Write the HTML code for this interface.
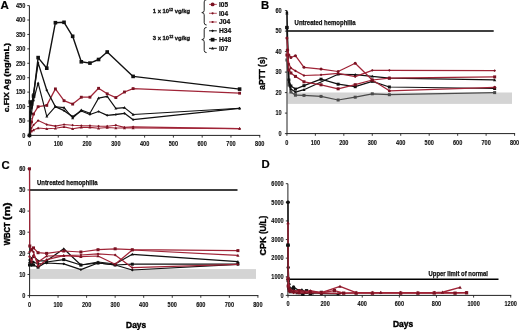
<!DOCTYPE html>
<html><head><meta charset="utf-8"><title>Figure</title>
<style>
html,body{margin:0;padding:0;background:#fff;}
body{width:520px;height:330px;overflow:hidden;}
svg{display:block;will-change:transform;font-family:"Liberation Sans", sans-serif;}
</style></head>
<body>
<svg width="520" height="330" viewBox="0 0 520 330">
<rect width="520" height="330" fill="#fff"/>
<line x1="29.40" y1="5.60" x2="29.40" y2="135.90" stroke="#222222" stroke-width="1.0"/>
<line x1="29.40" y1="135.40" x2="260.24" y2="135.40" stroke="#222222" stroke-width="1.0"/>
<line x1="27.30" y1="135.40" x2="29.40" y2="135.40" stroke="#222222" stroke-width="0.9"/>
<text x="25.30" y="137.70" font-size="6.4" text-anchor="end" font-weight="bold" fill="#111" stroke="#111" stroke-width="0.12" textLength="3.1" lengthAdjust="spacingAndGlyphs" >0</text>
<line x1="27.30" y1="120.98" x2="29.40" y2="120.98" stroke="#222222" stroke-width="0.9"/>
<text x="25.30" y="123.28" font-size="6.4" text-anchor="end" font-weight="bold" fill="#111" stroke="#111" stroke-width="0.12" textLength="6.2" lengthAdjust="spacingAndGlyphs" >50</text>
<line x1="27.30" y1="106.56" x2="29.40" y2="106.56" stroke="#222222" stroke-width="0.9"/>
<text x="25.30" y="108.86" font-size="6.4" text-anchor="end" font-weight="bold" fill="#111" stroke="#111" stroke-width="0.12" textLength="9.3" lengthAdjust="spacingAndGlyphs" >100</text>
<line x1="27.30" y1="92.13" x2="29.40" y2="92.13" stroke="#222222" stroke-width="0.9"/>
<text x="25.30" y="94.43" font-size="6.4" text-anchor="end" font-weight="bold" fill="#111" stroke="#111" stroke-width="0.12" textLength="9.3" lengthAdjust="spacingAndGlyphs" >150</text>
<line x1="27.30" y1="77.71" x2="29.40" y2="77.71" stroke="#222222" stroke-width="0.9"/>
<text x="25.30" y="80.01" font-size="6.4" text-anchor="end" font-weight="bold" fill="#111" stroke="#111" stroke-width="0.12" textLength="9.3" lengthAdjust="spacingAndGlyphs" >200</text>
<line x1="27.30" y1="63.29" x2="29.40" y2="63.29" stroke="#222222" stroke-width="0.9"/>
<text x="25.30" y="65.59" font-size="6.4" text-anchor="end" font-weight="bold" fill="#111" stroke="#111" stroke-width="0.12" textLength="9.3" lengthAdjust="spacingAndGlyphs" >250</text>
<line x1="27.30" y1="48.87" x2="29.40" y2="48.87" stroke="#222222" stroke-width="0.9"/>
<text x="25.30" y="51.17" font-size="6.4" text-anchor="end" font-weight="bold" fill="#111" stroke="#111" stroke-width="0.12" textLength="9.3" lengthAdjust="spacingAndGlyphs" >300</text>
<line x1="27.30" y1="34.44" x2="29.40" y2="34.44" stroke="#222222" stroke-width="0.9"/>
<text x="25.30" y="36.74" font-size="6.4" text-anchor="end" font-weight="bold" fill="#111" stroke="#111" stroke-width="0.12" textLength="9.3" lengthAdjust="spacingAndGlyphs" >350</text>
<line x1="27.30" y1="20.02" x2="29.40" y2="20.02" stroke="#222222" stroke-width="0.9"/>
<text x="25.30" y="22.32" font-size="6.4" text-anchor="end" font-weight="bold" fill="#111" stroke="#111" stroke-width="0.12" textLength="9.3" lengthAdjust="spacingAndGlyphs" >400</text>
<line x1="27.30" y1="5.60" x2="29.40" y2="5.60" stroke="#222222" stroke-width="0.9"/>
<text x="25.30" y="7.90" font-size="6.4" text-anchor="end" font-weight="bold" fill="#111" stroke="#111" stroke-width="0.12" textLength="9.3" lengthAdjust="spacingAndGlyphs" >450</text>
<line x1="29.50" y1="135.40" x2="29.50" y2="137.60" stroke="#222222" stroke-width="0.9"/>
<text x="29.50" y="145.80" font-size="6.4" text-anchor="middle" font-weight="bold" fill="#111" stroke="#111" stroke-width="0.12" textLength="3.1" lengthAdjust="spacingAndGlyphs" >0</text>
<line x1="58.28" y1="135.40" x2="58.28" y2="137.60" stroke="#222222" stroke-width="0.9"/>
<text x="58.28" y="145.80" font-size="6.4" text-anchor="middle" font-weight="bold" fill="#111" stroke="#111" stroke-width="0.12" textLength="9.3" lengthAdjust="spacingAndGlyphs" >100</text>
<line x1="87.06" y1="135.40" x2="87.06" y2="137.60" stroke="#222222" stroke-width="0.9"/>
<text x="87.06" y="145.80" font-size="6.4" text-anchor="middle" font-weight="bold" fill="#111" stroke="#111" stroke-width="0.12" textLength="9.3" lengthAdjust="spacingAndGlyphs" >200</text>
<line x1="115.84" y1="135.40" x2="115.84" y2="137.60" stroke="#222222" stroke-width="0.9"/>
<text x="115.84" y="145.80" font-size="6.4" text-anchor="middle" font-weight="bold" fill="#111" stroke="#111" stroke-width="0.12" textLength="9.3" lengthAdjust="spacingAndGlyphs" >300</text>
<line x1="144.62" y1="135.40" x2="144.62" y2="137.60" stroke="#222222" stroke-width="0.9"/>
<text x="144.62" y="145.80" font-size="6.4" text-anchor="middle" font-weight="bold" fill="#111" stroke="#111" stroke-width="0.12" textLength="9.3" lengthAdjust="spacingAndGlyphs" >400</text>
<line x1="173.40" y1="135.40" x2="173.40" y2="137.60" stroke="#222222" stroke-width="0.9"/>
<text x="173.40" y="145.80" font-size="6.4" text-anchor="middle" font-weight="bold" fill="#111" stroke="#111" stroke-width="0.12" textLength="9.3" lengthAdjust="spacingAndGlyphs" >500</text>
<line x1="202.18" y1="135.40" x2="202.18" y2="137.60" stroke="#222222" stroke-width="0.9"/>
<text x="202.18" y="145.80" font-size="6.4" text-anchor="middle" font-weight="bold" fill="#111" stroke="#111" stroke-width="0.12" textLength="9.3" lengthAdjust="spacingAndGlyphs" >600</text>
<line x1="230.96" y1="135.40" x2="230.96" y2="137.60" stroke="#222222" stroke-width="0.9"/>
<text x="230.96" y="145.80" font-size="6.4" text-anchor="middle" font-weight="bold" fill="#111" stroke="#111" stroke-width="0.12" textLength="9.3" lengthAdjust="spacingAndGlyphs" >700</text>
<line x1="259.74" y1="135.40" x2="259.74" y2="137.60" stroke="#222222" stroke-width="0.9"/>
<text x="259.74" y="145.80" font-size="6.4" text-anchor="middle" font-weight="bold" fill="#111" stroke="#111" stroke-width="0.12" textLength="9.3" lengthAdjust="spacingAndGlyphs" >800</text>
<polyline points="29.50,135.40 31.51,128.00 33.53,125.00 38.13,120.60 46.77,124.60 55.40,126.10 64.04,124.50 72.67,125.20 81.30,125.70 89.94,125.70 98.57,126.20 107.21,126.20 115.84,125.20 124.47,127.40 133.11,126.90 239.59,128.60" fill="none" stroke="#a02437" stroke-width="1.125" stroke-linejoin="round"/>
<path d="M29.50 134.07L30.83 135.40L29.50 136.73L28.17 135.40Z" fill="#7a1222"/>
<path d="M31.51 126.67L32.84 128.00L31.51 129.33L30.18 128.00Z" fill="#7a1222"/>
<path d="M33.53 123.67L34.86 125.00L33.53 126.33L32.20 125.00Z" fill="#7a1222"/>
<path d="M38.13 119.27L39.46 120.60L38.13 121.93L36.80 120.60Z" fill="#7a1222"/>
<path d="M46.77 123.27L48.10 124.60L46.77 125.93L45.44 124.60Z" fill="#7a1222"/>
<path d="M55.40 124.77L56.73 126.10L55.40 127.43L54.07 126.10Z" fill="#7a1222"/>
<path d="M64.04 123.17L65.37 124.50L64.04 125.83L62.71 124.50Z" fill="#7a1222"/>
<path d="M72.67 123.87L74.00 125.20L72.67 126.53L71.34 125.20Z" fill="#7a1222"/>
<path d="M81.30 124.37L82.63 125.70L81.30 127.03L79.97 125.70Z" fill="#7a1222"/>
<path d="M89.94 124.37L91.27 125.70L89.94 127.03L88.61 125.70Z" fill="#7a1222"/>
<path d="M98.57 124.87L99.90 126.20L98.57 127.53L97.24 126.20Z" fill="#7a1222"/>
<path d="M107.21 124.87L108.54 126.20L107.21 127.53L105.88 126.20Z" fill="#7a1222"/>
<path d="M115.84 123.87L117.17 125.20L115.84 126.53L114.51 125.20Z" fill="#7a1222"/>
<path d="M124.47 126.07L125.80 127.40L124.47 128.73L123.14 127.40Z" fill="#7a1222"/>
<path d="M133.11 125.57L134.44 126.90L133.11 128.23L131.78 126.90Z" fill="#7a1222"/>
<path d="M239.59 127.27L240.92 128.60L239.59 129.93L238.26 128.60Z" fill="#7a1222"/>
<polyline points="29.50,135.40 31.51,131.00 33.53,130.00 38.13,128.00 46.77,128.80 55.40,128.30 64.04,126.90 72.67,128.80 81.30,127.40 89.94,127.40 98.57,128.30 107.21,127.50 115.84,128.00 124.47,128.00 133.11,128.00 239.59,128.60" fill="none" stroke="#a02437" stroke-width="1.125" stroke-linejoin="round"/>
<path d="M29.50 133.88L31.02 136.62L27.98 136.62Z" fill="#7a1222"/>
<path d="M31.51 129.48L33.03 132.22L29.99 132.22Z" fill="#7a1222"/>
<path d="M33.53 128.48L35.05 131.22L32.01 131.22Z" fill="#7a1222"/>
<path d="M38.13 126.48L39.65 129.22L36.61 129.22Z" fill="#7a1222"/>
<path d="M46.77 127.28L48.29 130.02L45.25 130.02Z" fill="#7a1222"/>
<path d="M55.40 126.78L56.92 129.52L53.88 129.52Z" fill="#7a1222"/>
<path d="M64.04 125.38L65.56 128.12L62.52 128.12Z" fill="#7a1222"/>
<path d="M72.67 127.28L74.19 130.02L71.15 130.02Z" fill="#7a1222"/>
<path d="M81.30 125.88L82.82 128.62L79.78 128.62Z" fill="#7a1222"/>
<path d="M89.94 125.88L91.46 128.62L88.42 128.62Z" fill="#7a1222"/>
<path d="M98.57 126.78L100.09 129.52L97.05 129.52Z" fill="#7a1222"/>
<path d="M107.21 125.98L108.73 128.72L105.69 128.72Z" fill="#7a1222"/>
<path d="M115.84 126.48L117.36 129.22L114.32 129.22Z" fill="#7a1222"/>
<path d="M124.47 126.48L125.99 129.22L122.95 129.22Z" fill="#7a1222"/>
<path d="M133.11 126.48L134.63 129.22L131.59 129.22Z" fill="#7a1222"/>
<path d="M239.59 127.08L241.11 129.82L238.07 129.82Z" fill="#7a1222"/>
<polyline points="29.50,135.40 31.51,122.00 33.53,114.00 38.13,106.70 46.77,105.40 55.40,88.90 64.04,100.70 72.67,104.10 81.30,97.20 89.94,97.20 98.57,88.30 107.21,93.80 115.84,97.60 124.47,92.00 133.11,88.60 239.59,93.20" fill="none" stroke="#a02437" stroke-width="1.25" stroke-linejoin="round"/>
<rect x="28.07" y="133.97" width="2.85" height="2.85" fill="#7a1222"/>
<rect x="30.09" y="120.58" width="2.85" height="2.85" fill="#7a1222"/>
<rect x="32.10" y="112.58" width="2.85" height="2.85" fill="#7a1222"/>
<rect x="36.71" y="105.28" width="2.85" height="2.85" fill="#7a1222"/>
<rect x="45.34" y="103.98" width="2.85" height="2.85" fill="#7a1222"/>
<rect x="53.98" y="87.48" width="2.85" height="2.85" fill="#7a1222"/>
<rect x="62.61" y="99.28" width="2.85" height="2.85" fill="#7a1222"/>
<rect x="71.25" y="102.67" width="2.85" height="2.85" fill="#7a1222"/>
<rect x="79.88" y="95.78" width="2.85" height="2.85" fill="#7a1222"/>
<rect x="88.51" y="95.78" width="2.85" height="2.85" fill="#7a1222"/>
<rect x="97.15" y="86.88" width="2.85" height="2.85" fill="#7a1222"/>
<rect x="105.78" y="92.38" width="2.85" height="2.85" fill="#7a1222"/>
<rect x="114.42" y="96.17" width="2.85" height="2.85" fill="#7a1222"/>
<rect x="123.05" y="90.58" width="2.85" height="2.85" fill="#7a1222"/>
<rect x="131.68" y="87.17" width="2.85" height="2.85" fill="#7a1222"/>
<rect x="238.17" y="91.78" width="2.85" height="2.85" fill="#7a1222"/>
<polyline points="29.50,135.40 30.36,118.00 31.51,113.00 33.53,100.00 38.13,83.00 46.77,116.40 55.40,106.70 64.04,107.60 72.67,118.00 81.30,110.00 89.94,113.30 98.57,98.10 107.21,96.40 115.84,108.40 124.47,107.60 133.11,114.50 239.59,108.30" fill="none" stroke="#111111" stroke-width="1.125" stroke-linejoin="round"/>
<path d="M29.50 133.88L31.02 136.62L27.98 136.62Z" fill="#111111"/>
<path d="M30.36 116.48L31.88 119.22L28.84 119.22Z" fill="#111111"/>
<path d="M31.51 111.48L33.03 114.22L29.99 114.22Z" fill="#111111"/>
<path d="M33.53 98.48L35.05 101.22L32.01 101.22Z" fill="#111111"/>
<path d="M38.13 81.48L39.65 84.22L36.61 84.22Z" fill="#111111"/>
<path d="M46.77 114.88L48.29 117.62L45.25 117.62Z" fill="#111111"/>
<path d="M55.40 105.18L56.92 107.92L53.88 107.92Z" fill="#111111"/>
<path d="M64.04 106.08L65.56 108.82L62.52 108.82Z" fill="#111111"/>
<path d="M72.67 116.48L74.19 119.22L71.15 119.22Z" fill="#111111"/>
<path d="M81.30 108.48L82.82 111.22L79.78 111.22Z" fill="#111111"/>
<path d="M89.94 111.78L91.46 114.52L88.42 114.52Z" fill="#111111"/>
<path d="M98.57 96.58L100.09 99.32L97.05 99.32Z" fill="#111111"/>
<path d="M107.21 94.88L108.73 97.62L105.69 97.62Z" fill="#111111"/>
<path d="M115.84 106.88L117.36 109.62L114.32 109.62Z" fill="#111111"/>
<path d="M124.47 106.08L125.99 108.82L122.95 108.82Z" fill="#111111"/>
<path d="M133.11 112.98L134.63 115.72L131.59 115.72Z" fill="#111111"/>
<path d="M239.59 106.78L241.11 109.52L238.07 109.52Z" fill="#111111"/>
<polyline points="29.50,135.40 30.36,112.00 31.51,108.00 33.53,93.50 38.13,62.90 46.77,90.20 55.40,106.70 64.04,110.70 72.67,116.60 81.30,111.00 89.94,114.50 98.57,111.50 107.21,115.30 115.84,114.50 124.47,113.30 133.11,119.70 239.59,108.30" fill="none" stroke="#111111" stroke-width="1.3125" stroke-linejoin="round"/>
<path d="M29.50 134.07L30.83 135.40L29.50 136.73L28.17 135.40Z" fill="#111111"/>
<path d="M30.36 110.67L31.69 112.00L30.36 113.33L29.03 112.00Z" fill="#111111"/>
<path d="M31.51 106.67L32.84 108.00L31.51 109.33L30.18 108.00Z" fill="#111111"/>
<path d="M33.53 92.17L34.86 93.50L33.53 94.83L32.20 93.50Z" fill="#111111"/>
<path d="M38.13 61.57L39.46 62.90L38.13 64.23L36.80 62.90Z" fill="#111111"/>
<path d="M46.77 88.87L48.10 90.20L46.77 91.53L45.44 90.20Z" fill="#111111"/>
<path d="M55.40 105.37L56.73 106.70L55.40 108.03L54.07 106.70Z" fill="#111111"/>
<path d="M64.04 109.37L65.37 110.70L64.04 112.03L62.71 110.70Z" fill="#111111"/>
<path d="M72.67 115.27L74.00 116.60L72.67 117.93L71.34 116.60Z" fill="#111111"/>
<path d="M81.30 109.67L82.63 111.00L81.30 112.33L79.97 111.00Z" fill="#111111"/>
<path d="M89.94 113.17L91.27 114.50L89.94 115.83L88.61 114.50Z" fill="#111111"/>
<path d="M98.57 110.17L99.90 111.50L98.57 112.83L97.24 111.50Z" fill="#111111"/>
<path d="M107.21 113.97L108.54 115.30L107.21 116.63L105.88 115.30Z" fill="#111111"/>
<path d="M115.84 113.17L117.17 114.50L115.84 115.83L114.51 114.50Z" fill="#111111"/>
<path d="M124.47 111.97L125.80 113.30L124.47 114.63L123.14 113.30Z" fill="#111111"/>
<path d="M133.11 118.37L134.44 119.70L133.11 121.03L131.78 119.70Z" fill="#111111"/>
<path d="M239.59 106.97L240.92 108.30L239.59 109.63L238.26 108.30Z" fill="#111111"/>
<polyline points="29.50,135.40 30.36,102.00 31.51,104.00 33.53,96.00 38.13,57.60 46.77,68.20 55.40,22.70 64.04,22.30 72.67,36.30 81.30,61.80 89.94,63.10 98.57,59.50 107.21,52.00 133.11,76.40 239.59,89.10" fill="none" stroke="#111111" stroke-width="1.4000000000000001" stroke-linejoin="round"/>
<rect x="27.70" y="133.60" width="3.60" height="3.60" fill="#111111"/>
<rect x="28.56" y="100.20" width="3.60" height="3.60" fill="#111111"/>
<rect x="29.71" y="102.20" width="3.60" height="3.60" fill="#111111"/>
<rect x="31.73" y="94.20" width="3.60" height="3.60" fill="#111111"/>
<rect x="36.33" y="55.80" width="3.60" height="3.60" fill="#111111"/>
<rect x="44.97" y="66.40" width="3.60" height="3.60" fill="#111111"/>
<rect x="53.60" y="20.90" width="3.60" height="3.60" fill="#111111"/>
<rect x="62.24" y="20.50" width="3.60" height="3.60" fill="#111111"/>
<rect x="70.87" y="34.50" width="3.60" height="3.60" fill="#111111"/>
<rect x="79.50" y="60.00" width="3.60" height="3.60" fill="#111111"/>
<rect x="88.14" y="61.30" width="3.60" height="3.60" fill="#111111"/>
<rect x="96.77" y="57.70" width="3.60" height="3.60" fill="#111111"/>
<rect x="105.41" y="50.20" width="3.60" height="3.60" fill="#111111"/>
<rect x="131.31" y="74.60" width="3.60" height="3.60" fill="#111111"/>
<rect x="237.79" y="87.30" width="3.60" height="3.60" fill="#111111"/>
<text x="152.80" y="13.40" font-size="5.8" text-anchor="start" font-weight="bold" fill="#111" stroke="#111" stroke-width="0.3" textLength="37.2" lengthAdjust="spacingAndGlyphs" >1 x 10<tspan font-size="3.6" dy="-2.4">12</tspan><tspan dy="2.4"> vg/kg</tspan></text>
<text x="152.80" y="39.90" font-size="5.8" text-anchor="start" font-weight="bold" fill="#111" stroke="#111" stroke-width="0.3" textLength="37.4" lengthAdjust="spacingAndGlyphs" >3 x 10<tspan font-size="3.6" dy="-2.4">12</tspan><tspan dy="2.4"> vg/kg</tspan></text>
<path d="M206.60 -0.30 Q204.20 -0.30 204.20 1.90 L204.20 10.40 Q204.20 12.60 201.80 12.60 Q204.20 12.60 204.20 14.80 L204.20 22.80 Q204.20 25.00 206.60 25.00" fill="none" stroke="#222" stroke-width="1.0"/>
<path d="M206.60 27.40 Q204.20 27.40 204.20 29.60 L204.20 37.40 Q204.20 39.60 201.80 39.60 Q204.20 39.60 204.20 41.80 L204.20 50.40 Q204.20 52.60 206.60 52.60" fill="none" stroke="#222" stroke-width="1.0"/>
<line x1="209.00" y1="4.40" x2="216.80" y2="4.40" stroke="#b8505e" stroke-width="1.0"/>
<circle cx="212.60" cy="4.40" r="1.95" fill="#7a1222"/>
<text x="219.00" y="6.80" font-size="6.7" text-anchor="start" font-weight="bold" fill="#111" stroke="#111" stroke-width="0.22" textLength="9.0" lengthAdjust="spacingAndGlyphs" >I05</text>
<line x1="209.00" y1="13.30" x2="216.80" y2="13.30" stroke="#b8505e" stroke-width="1.0"/>
<circle cx="212.60" cy="13.30" r="1.10" fill="#7a1222"/>
<text x="219.00" y="15.70" font-size="6.7" text-anchor="start" font-weight="bold" fill="#111" stroke="#111" stroke-width="0.22" textLength="9.0" lengthAdjust="spacingAndGlyphs" >I04</text>
<line x1="209.00" y1="22.00" x2="216.80" y2="22.00" stroke="#b8505e" stroke-width="1.0"/>
<circle cx="212.60" cy="22.00" r="1.10" fill="#7a1222"/>
<text x="219.00" y="24.40" font-size="6.7" text-anchor="start" font-weight="bold" fill="#111" stroke="#111" stroke-width="0.22" >J04</text>
<line x1="209.00" y1="30.80" x2="216.80" y2="30.80" stroke="#111111" stroke-width="1.0"/>
<path d="M212.60 29.40L214.00 30.80L212.60 32.20L211.20 30.80Z" fill="#111111"/>
<text x="219.00" y="33.20" font-size="6.7" text-anchor="start" font-weight="bold" fill="#111" stroke="#111" stroke-width="0.22" >H34</text>
<line x1="209.00" y1="39.70" x2="216.80" y2="39.70" stroke="#111111" stroke-width="1.0"/>
<rect x="210.72" y="37.83" width="3.75" height="3.75" fill="#111111"/>
<text x="219.00" y="42.10" font-size="6.7" text-anchor="start" font-weight="bold" fill="#111" stroke="#111" stroke-width="0.22" >H48</text>
<line x1="209.00" y1="48.30" x2="216.80" y2="48.30" stroke="#111111" stroke-width="1.0"/>
<path d="M212.60 46.86L214.04 49.45L211.16 49.45Z" fill="#111111"/>
<text x="219.00" y="50.70" font-size="6.7" text-anchor="start" font-weight="bold" fill="#111" stroke="#111" stroke-width="0.22" textLength="9.0" lengthAdjust="spacingAndGlyphs" >I07</text>
<rect x="287.6" y="92.5" width="224.4" height="11.4" fill="#d4d4d4"/>
<line x1="287.00" y1="10.60" x2="287.00" y2="134.10" stroke="#222222" stroke-width="1.0"/>
<line x1="287.00" y1="133.60" x2="515.08" y2="133.60" stroke="#222222" stroke-width="1.0"/>
<line x1="284.90" y1="133.60" x2="287.00" y2="133.60" stroke="#222222" stroke-width="0.9"/>
<text x="281.70" y="135.90" font-size="6.4" text-anchor="end" font-weight="bold" fill="#111" stroke="#111" stroke-width="0.12" textLength="3.1" lengthAdjust="spacingAndGlyphs" >0</text>
<line x1="284.90" y1="113.10" x2="287.00" y2="113.10" stroke="#222222" stroke-width="0.9"/>
<text x="281.70" y="115.40" font-size="6.4" text-anchor="end" font-weight="bold" fill="#111" stroke="#111" stroke-width="0.12" textLength="6.2" lengthAdjust="spacingAndGlyphs" >10</text>
<line x1="284.90" y1="92.60" x2="287.00" y2="92.60" stroke="#222222" stroke-width="0.9"/>
<text x="281.70" y="94.90" font-size="6.4" text-anchor="end" font-weight="bold" fill="#111" stroke="#111" stroke-width="0.12" textLength="6.2" lengthAdjust="spacingAndGlyphs" >20</text>
<line x1="284.90" y1="72.10" x2="287.00" y2="72.10" stroke="#222222" stroke-width="0.9"/>
<text x="281.70" y="74.40" font-size="6.4" text-anchor="end" font-weight="bold" fill="#111" stroke="#111" stroke-width="0.12" textLength="6.2" lengthAdjust="spacingAndGlyphs" >30</text>
<line x1="284.90" y1="51.60" x2="287.00" y2="51.60" stroke="#222222" stroke-width="0.9"/>
<text x="281.70" y="53.90" font-size="6.4" text-anchor="end" font-weight="bold" fill="#111" stroke="#111" stroke-width="0.12" textLength="6.2" lengthAdjust="spacingAndGlyphs" >40</text>
<line x1="284.90" y1="31.10" x2="287.00" y2="31.10" stroke="#222222" stroke-width="0.9"/>
<text x="281.70" y="33.40" font-size="6.4" text-anchor="end" font-weight="bold" fill="#111" stroke="#111" stroke-width="0.12" textLength="6.2" lengthAdjust="spacingAndGlyphs" >50</text>
<line x1="284.90" y1="10.60" x2="287.00" y2="10.60" stroke="#222222" stroke-width="0.9"/>
<text x="281.70" y="12.90" font-size="6.4" text-anchor="end" font-weight="bold" fill="#111" stroke="#111" stroke-width="0.12" textLength="6.2" lengthAdjust="spacingAndGlyphs" >60</text>
<line x1="286.90" y1="133.60" x2="286.90" y2="135.80" stroke="#222222" stroke-width="0.9"/>
<text x="286.90" y="145.40" font-size="6.4" text-anchor="middle" font-weight="bold" fill="#111" stroke="#111" stroke-width="0.12" textLength="3.1" lengthAdjust="spacingAndGlyphs" >0</text>
<line x1="315.36" y1="133.60" x2="315.36" y2="135.80" stroke="#222222" stroke-width="0.9"/>
<text x="315.36" y="145.40" font-size="6.4" text-anchor="middle" font-weight="bold" fill="#111" stroke="#111" stroke-width="0.12" textLength="9.3" lengthAdjust="spacingAndGlyphs" >100</text>
<line x1="343.82" y1="133.60" x2="343.82" y2="135.80" stroke="#222222" stroke-width="0.9"/>
<text x="343.82" y="145.40" font-size="6.4" text-anchor="middle" font-weight="bold" fill="#111" stroke="#111" stroke-width="0.12" textLength="9.3" lengthAdjust="spacingAndGlyphs" >200</text>
<line x1="372.28" y1="133.60" x2="372.28" y2="135.80" stroke="#222222" stroke-width="0.9"/>
<text x="372.28" y="145.40" font-size="6.4" text-anchor="middle" font-weight="bold" fill="#111" stroke="#111" stroke-width="0.12" textLength="9.3" lengthAdjust="spacingAndGlyphs" >300</text>
<line x1="400.74" y1="133.60" x2="400.74" y2="135.80" stroke="#222222" stroke-width="0.9"/>
<text x="400.74" y="145.40" font-size="6.4" text-anchor="middle" font-weight="bold" fill="#111" stroke="#111" stroke-width="0.12" textLength="9.3" lengthAdjust="spacingAndGlyphs" >400</text>
<line x1="429.20" y1="133.60" x2="429.20" y2="135.80" stroke="#222222" stroke-width="0.9"/>
<text x="429.20" y="145.40" font-size="6.4" text-anchor="middle" font-weight="bold" fill="#111" stroke="#111" stroke-width="0.12" textLength="9.3" lengthAdjust="spacingAndGlyphs" >500</text>
<line x1="457.66" y1="133.60" x2="457.66" y2="135.80" stroke="#222222" stroke-width="0.9"/>
<text x="457.66" y="145.40" font-size="6.4" text-anchor="middle" font-weight="bold" fill="#111" stroke="#111" stroke-width="0.12" textLength="9.3" lengthAdjust="spacingAndGlyphs" >600</text>
<line x1="486.12" y1="133.60" x2="486.12" y2="135.80" stroke="#222222" stroke-width="0.9"/>
<text x="486.12" y="145.40" font-size="6.4" text-anchor="middle" font-weight="bold" fill="#111" stroke="#111" stroke-width="0.12" textLength="9.3" lengthAdjust="spacingAndGlyphs" >700</text>
<line x1="514.58" y1="133.60" x2="514.58" y2="135.80" stroke="#222222" stroke-width="0.9"/>
<text x="514.58" y="145.40" font-size="6.4" text-anchor="middle" font-weight="bold" fill="#111" stroke="#111" stroke-width="0.12" textLength="9.3" lengthAdjust="spacingAndGlyphs" >800</text>
<line x1="287.00" y1="31.00" x2="493.70" y2="31.00" stroke="#000" stroke-width="1.6"/>
<text x="294.60" y="24.50" font-size="6.3" text-anchor="start" font-weight="bold" fill="#111" stroke="#111" stroke-width="0.25" textLength="61.0" lengthAdjust="spacingAndGlyphs" >Untreated hemophilia</text>
<polyline points="286.90,60.00 288.89,85.00 290.88,92.00 295.44,95.20 303.98,95.40 321.05,96.40 338.13,100.00 355.20,97.20 372.28,93.80 389.36,94.70 494.66,92.60" fill="none" stroke="#4a4a4a" stroke-width="1.25" stroke-linejoin="round"/>
<rect x="285.40" y="58.50" width="3.00" height="3.00" fill="#4a4a4a"/>
<rect x="287.39" y="83.50" width="3.00" height="3.00" fill="#4a4a4a"/>
<rect x="289.38" y="90.50" width="3.00" height="3.00" fill="#4a4a4a"/>
<rect x="293.94" y="93.70" width="3.00" height="3.00" fill="#4a4a4a"/>
<rect x="302.48" y="93.90" width="3.00" height="3.00" fill="#4a4a4a"/>
<rect x="319.55" y="94.90" width="3.00" height="3.00" fill="#4a4a4a"/>
<rect x="336.63" y="98.50" width="3.00" height="3.00" fill="#4a4a4a"/>
<rect x="353.70" y="95.70" width="3.00" height="3.00" fill="#4a4a4a"/>
<rect x="370.78" y="92.30" width="3.00" height="3.00" fill="#4a4a4a"/>
<rect x="387.86" y="93.20" width="3.00" height="3.00" fill="#4a4a4a"/>
<rect x="493.16" y="91.10" width="3.00" height="3.00" fill="#4a4a4a"/>
<polyline points="286.90,11.90 288.89,82.00 290.88,89.00 295.44,92.10 303.98,89.70 338.13,74.30 355.20,74.70 372.28,76.30 389.36,78.10 494.66,79.90" fill="none" stroke="#111111" stroke-width="1.25" stroke-linejoin="round"/>
<path d="M286.90 10.30L288.50 13.18L285.30 13.18Z" fill="#111111"/>
<path d="M288.89 80.40L290.49 83.28L287.29 83.28Z" fill="#111111"/>
<path d="M290.88 87.40L292.48 90.28L289.28 90.28Z" fill="#111111"/>
<path d="M295.44 90.50L297.04 93.38L293.84 93.38Z" fill="#111111"/>
<path d="M303.98 88.10L305.58 90.98L302.38 90.98Z" fill="#111111"/>
<path d="M338.13 72.70L339.73 75.58L336.53 75.58Z" fill="#111111"/>
<path d="M355.20 73.10L356.80 75.98L353.60 75.98Z" fill="#111111"/>
<path d="M372.28 74.70L373.88 77.58L370.68 77.58Z" fill="#111111"/>
<path d="M389.36 76.50L390.96 79.38L387.76 79.38Z" fill="#111111"/>
<path d="M494.66 78.30L496.26 81.18L493.06 81.18Z" fill="#111111"/>
<polyline points="286.90,27.70 288.89,80.00 290.88,86.00 295.44,89.10 303.98,85.70 321.05,79.20 338.13,84.20 355.20,86.70 372.28,81.30 389.36,87.00 494.66,88.50" fill="none" stroke="#111111" stroke-width="1.25" stroke-linejoin="round"/>
<rect x="285.40" y="26.20" width="3.00" height="3.00" fill="#111111"/>
<rect x="287.39" y="78.50" width="3.00" height="3.00" fill="#111111"/>
<rect x="289.38" y="84.50" width="3.00" height="3.00" fill="#111111"/>
<rect x="293.94" y="87.60" width="3.00" height="3.00" fill="#111111"/>
<rect x="302.48" y="84.20" width="3.00" height="3.00" fill="#111111"/>
<rect x="319.55" y="77.70" width="3.00" height="3.00" fill="#111111"/>
<rect x="336.63" y="82.70" width="3.00" height="3.00" fill="#111111"/>
<rect x="353.70" y="85.20" width="3.00" height="3.00" fill="#111111"/>
<rect x="370.78" y="79.80" width="3.00" height="3.00" fill="#111111"/>
<rect x="387.86" y="85.50" width="3.00" height="3.00" fill="#111111"/>
<rect x="493.16" y="87.00" width="3.00" height="3.00" fill="#111111"/>
<polyline points="286.90,55.00 288.89,70.00 290.88,73.00 295.44,76.40 303.98,81.80 321.05,84.80 338.13,88.80 355.20,84.70 372.28,80.00 389.36,78.10 494.66,76.90" fill="none" stroke="#a02437" stroke-width="1.25" stroke-linejoin="round"/>
<rect x="285.40" y="53.50" width="3.00" height="3.00" fill="#7a1222"/>
<rect x="287.39" y="68.50" width="3.00" height="3.00" fill="#7a1222"/>
<rect x="289.38" y="71.50" width="3.00" height="3.00" fill="#7a1222"/>
<rect x="293.94" y="74.90" width="3.00" height="3.00" fill="#7a1222"/>
<rect x="302.48" y="80.30" width="3.00" height="3.00" fill="#7a1222"/>
<rect x="319.55" y="83.30" width="3.00" height="3.00" fill="#7a1222"/>
<rect x="336.63" y="87.30" width="3.00" height="3.00" fill="#7a1222"/>
<rect x="353.70" y="83.20" width="3.00" height="3.00" fill="#7a1222"/>
<rect x="370.78" y="78.50" width="3.00" height="3.00" fill="#7a1222"/>
<rect x="387.86" y="76.60" width="3.00" height="3.00" fill="#7a1222"/>
<rect x="493.16" y="75.40" width="3.00" height="3.00" fill="#7a1222"/>
<polyline points="286.90,50.00 288.89,64.00 290.88,68.00 295.44,70.90 303.98,75.50 321.05,74.80 338.13,73.30 355.20,76.70 372.28,70.30 389.36,70.30 494.66,70.70" fill="none" stroke="#a02437" stroke-width="1.25" stroke-linejoin="round"/>
<path d="M286.90 48.60L288.30 50.00L286.90 51.40L285.50 50.00Z" fill="#7a1222"/>
<path d="M288.89 62.60L290.29 64.00L288.89 65.40L287.49 64.00Z" fill="#7a1222"/>
<path d="M290.88 66.60L292.28 68.00L290.88 69.40L289.48 68.00Z" fill="#7a1222"/>
<path d="M295.44 69.50L296.84 70.90L295.44 72.30L294.04 70.90Z" fill="#7a1222"/>
<path d="M303.98 74.10L305.38 75.50L303.98 76.90L302.58 75.50Z" fill="#7a1222"/>
<path d="M321.05 73.40L322.45 74.80L321.05 76.20L319.65 74.80Z" fill="#7a1222"/>
<path d="M338.13 71.90L339.53 73.30L338.13 74.70L336.73 73.30Z" fill="#7a1222"/>
<path d="M355.20 75.30L356.60 76.70L355.20 78.10L353.80 76.70Z" fill="#7a1222"/>
<path d="M372.28 68.90L373.68 70.30L372.28 71.70L370.88 70.30Z" fill="#7a1222"/>
<path d="M389.36 68.90L390.76 70.30L389.36 71.70L387.96 70.30Z" fill="#7a1222"/>
<path d="M494.66 69.30L496.06 70.70L494.66 72.10L493.26 70.70Z" fill="#7a1222"/>
<polyline points="286.90,38.00 287.75,50.00 288.89,55.00 290.88,57.50 295.44,55.70 303.98,67.30 321.05,69.10 338.13,71.50 355.20,63.30 372.28,80.00 389.36,90.80 494.66,87.30" fill="none" stroke="#a02437" stroke-width="1.25" stroke-linejoin="round"/>
<circle cx="286.90" cy="38.00" r="1.50" fill="#7a1222"/>
<circle cx="287.75" cy="50.00" r="1.50" fill="#7a1222"/>
<circle cx="288.89" cy="55.00" r="1.50" fill="#7a1222"/>
<circle cx="290.88" cy="57.50" r="1.50" fill="#7a1222"/>
<circle cx="295.44" cy="55.70" r="1.50" fill="#7a1222"/>
<circle cx="303.98" cy="67.30" r="1.50" fill="#7a1222"/>
<circle cx="321.05" cy="69.10" r="1.50" fill="#7a1222"/>
<circle cx="338.13" cy="71.50" r="1.50" fill="#7a1222"/>
<circle cx="355.20" cy="63.30" r="1.50" fill="#7a1222"/>
<circle cx="372.28" cy="80.00" r="1.50" fill="#7a1222"/>
<circle cx="389.36" cy="90.80" r="1.50" fill="#7a1222"/>
<circle cx="494.66" cy="87.30" r="1.50" fill="#7a1222"/>
<path d="M286.90 11.70L288.50 14.58L285.30 14.58Z" fill="#111111"/>
<rect x="285.25" y="25.85" width="3.30" height="3.30" fill="#111111"/>
<rect x="30.0" y="269.1" width="226.0" height="9.8" fill="#d4d4d4"/>
<line x1="29.60" y1="168.82" x2="29.60" y2="296.10" stroke="#222222" stroke-width="1.0"/>
<line x1="29.60" y1="295.60" x2="258.40" y2="295.60" stroke="#222222" stroke-width="1.0"/>
<line x1="27.50" y1="295.60" x2="29.60" y2="295.60" stroke="#222222" stroke-width="0.9"/>
<text x="25.40" y="297.90" font-size="6.4" text-anchor="end" font-weight="bold" fill="#111" stroke="#111" stroke-width="0.12" textLength="3.1" lengthAdjust="spacingAndGlyphs" >0</text>
<line x1="27.50" y1="274.47" x2="29.60" y2="274.47" stroke="#222222" stroke-width="0.9"/>
<text x="25.40" y="276.77" font-size="6.4" text-anchor="end" font-weight="bold" fill="#111" stroke="#111" stroke-width="0.12" textLength="6.2" lengthAdjust="spacingAndGlyphs" >10</text>
<line x1="27.50" y1="253.34" x2="29.60" y2="253.34" stroke="#222222" stroke-width="0.9"/>
<text x="25.40" y="255.64" font-size="6.4" text-anchor="end" font-weight="bold" fill="#111" stroke="#111" stroke-width="0.12" textLength="6.2" lengthAdjust="spacingAndGlyphs" >20</text>
<line x1="27.50" y1="232.21" x2="29.60" y2="232.21" stroke="#222222" stroke-width="0.9"/>
<text x="25.40" y="234.51" font-size="6.4" text-anchor="end" font-weight="bold" fill="#111" stroke="#111" stroke-width="0.12" textLength="6.2" lengthAdjust="spacingAndGlyphs" >30</text>
<line x1="27.50" y1="211.08" x2="29.60" y2="211.08" stroke="#222222" stroke-width="0.9"/>
<text x="25.40" y="213.38" font-size="6.4" text-anchor="end" font-weight="bold" fill="#111" stroke="#111" stroke-width="0.12" textLength="6.2" lengthAdjust="spacingAndGlyphs" >40</text>
<line x1="27.50" y1="189.95" x2="29.60" y2="189.95" stroke="#222222" stroke-width="0.9"/>
<text x="25.40" y="192.25" font-size="6.4" text-anchor="end" font-weight="bold" fill="#111" stroke="#111" stroke-width="0.12" textLength="6.2" lengthAdjust="spacingAndGlyphs" >50</text>
<line x1="27.50" y1="168.82" x2="29.60" y2="168.82" stroke="#222222" stroke-width="0.9"/>
<text x="25.40" y="171.12" font-size="6.4" text-anchor="end" font-weight="bold" fill="#111" stroke="#111" stroke-width="0.12" textLength="6.2" lengthAdjust="spacingAndGlyphs" >60</text>
<line x1="29.50" y1="295.60" x2="29.50" y2="297.80" stroke="#222222" stroke-width="0.9"/>
<text x="29.50" y="306.60" font-size="6.4" text-anchor="middle" font-weight="bold" fill="#111" stroke="#111" stroke-width="0.12" textLength="3.1" lengthAdjust="spacingAndGlyphs" >0</text>
<line x1="58.05" y1="295.60" x2="58.05" y2="297.80" stroke="#222222" stroke-width="0.9"/>
<text x="58.05" y="306.60" font-size="6.4" text-anchor="middle" font-weight="bold" fill="#111" stroke="#111" stroke-width="0.12" textLength="9.3" lengthAdjust="spacingAndGlyphs" >100</text>
<line x1="86.60" y1="295.60" x2="86.60" y2="297.80" stroke="#222222" stroke-width="0.9"/>
<text x="86.60" y="306.60" font-size="6.4" text-anchor="middle" font-weight="bold" fill="#111" stroke="#111" stroke-width="0.12" textLength="9.3" lengthAdjust="spacingAndGlyphs" >200</text>
<line x1="115.15" y1="295.60" x2="115.15" y2="297.80" stroke="#222222" stroke-width="0.9"/>
<text x="115.15" y="306.60" font-size="6.4" text-anchor="middle" font-weight="bold" fill="#111" stroke="#111" stroke-width="0.12" textLength="9.3" lengthAdjust="spacingAndGlyphs" >300</text>
<line x1="143.70" y1="295.60" x2="143.70" y2="297.80" stroke="#222222" stroke-width="0.9"/>
<text x="143.70" y="306.60" font-size="6.4" text-anchor="middle" font-weight="bold" fill="#111" stroke="#111" stroke-width="0.12" textLength="9.3" lengthAdjust="spacingAndGlyphs" >400</text>
<line x1="172.25" y1="295.60" x2="172.25" y2="297.80" stroke="#222222" stroke-width="0.9"/>
<text x="172.25" y="306.60" font-size="6.4" text-anchor="middle" font-weight="bold" fill="#111" stroke="#111" stroke-width="0.12" textLength="9.3" lengthAdjust="spacingAndGlyphs" >500</text>
<line x1="200.80" y1="295.60" x2="200.80" y2="297.80" stroke="#222222" stroke-width="0.9"/>
<text x="200.80" y="306.60" font-size="6.4" text-anchor="middle" font-weight="bold" fill="#111" stroke="#111" stroke-width="0.12" textLength="9.3" lengthAdjust="spacingAndGlyphs" >600</text>
<line x1="229.35" y1="295.60" x2="229.35" y2="297.80" stroke="#222222" stroke-width="0.9"/>
<text x="229.35" y="306.60" font-size="6.4" text-anchor="middle" font-weight="bold" fill="#111" stroke="#111" stroke-width="0.12" textLength="9.3" lengthAdjust="spacingAndGlyphs" >700</text>
<line x1="257.90" y1="295.60" x2="257.90" y2="297.80" stroke="#222222" stroke-width="0.9"/>
<text x="257.90" y="306.60" font-size="6.4" text-anchor="middle" font-weight="bold" fill="#111" stroke="#111" stroke-width="0.12" textLength="9.3" lengthAdjust="spacingAndGlyphs" >800</text>
<line x1="29.60" y1="190.00" x2="237.50" y2="190.00" stroke="#000" stroke-width="1.6"/>
<text x="37.00" y="184.50" font-size="6.3" text-anchor="start" font-weight="bold" fill="#111" stroke="#111" stroke-width="0.25" textLength="60.6" lengthAdjust="spacingAndGlyphs" >Untreated hemophilia</text>
<polyline points="29.50,260.00 31.50,265.60 33.50,262.00 38.06,264.00 46.63,263.00 63.76,263.80 80.89,269.60 98.02,263.00 115.15,265.00 132.28,270.00 237.91,264.40" fill="none" stroke="#111111" stroke-width="1.25" stroke-linejoin="round"/>
<path d="M29.50 258.60L30.90 260.00L29.50 261.40L28.10 260.00Z" fill="#111111"/>
<path d="M31.50 264.20L32.90 265.60L31.50 267.00L30.10 265.60Z" fill="#111111"/>
<path d="M33.50 260.60L34.90 262.00L33.50 263.40L32.10 262.00Z" fill="#111111"/>
<path d="M38.06 262.60L39.46 264.00L38.06 265.40L36.66 264.00Z" fill="#111111"/>
<path d="M46.63 261.60L48.03 263.00L46.63 264.40L45.23 263.00Z" fill="#111111"/>
<path d="M63.76 262.40L65.16 263.80L63.76 265.20L62.36 263.80Z" fill="#111111"/>
<path d="M80.89 268.20L82.29 269.60L80.89 271.00L79.49 269.60Z" fill="#111111"/>
<path d="M98.02 261.60L99.42 263.00L98.02 264.40L96.62 263.00Z" fill="#111111"/>
<path d="M115.15 263.60L116.55 265.00L115.15 266.40L113.75 265.00Z" fill="#111111"/>
<path d="M132.28 268.60L133.68 270.00L132.28 271.40L130.88 270.00Z" fill="#111111"/>
<path d="M237.91 263.00L239.31 264.40L237.91 265.80L236.51 264.40Z" fill="#111111"/>
<polyline points="29.50,265.00 31.50,262.00 33.50,265.00 38.06,267.20 46.63,262.00 63.76,259.60 80.89,265.00 98.02,263.00 115.15,265.00 132.28,264.20 237.91,264.00" fill="none" stroke="#111111" stroke-width="1.25" stroke-linejoin="round"/>
<rect x="28.00" y="263.50" width="3.00" height="3.00" fill="#111111"/>
<rect x="30.00" y="260.50" width="3.00" height="3.00" fill="#111111"/>
<rect x="32.00" y="263.50" width="3.00" height="3.00" fill="#111111"/>
<rect x="36.56" y="265.70" width="3.00" height="3.00" fill="#111111"/>
<rect x="45.13" y="260.50" width="3.00" height="3.00" fill="#111111"/>
<rect x="62.26" y="258.10" width="3.00" height="3.00" fill="#111111"/>
<rect x="79.39" y="263.50" width="3.00" height="3.00" fill="#111111"/>
<rect x="96.52" y="261.50" width="3.00" height="3.00" fill="#111111"/>
<rect x="113.65" y="263.50" width="3.00" height="3.00" fill="#111111"/>
<rect x="130.78" y="262.70" width="3.00" height="3.00" fill="#111111"/>
<rect x="236.41" y="262.50" width="3.00" height="3.00" fill="#111111"/>
<polyline points="29.50,262.00 31.50,258.40 33.50,256.00 38.06,260.80 46.63,260.80 63.76,248.80 80.89,265.00 98.02,262.00 115.15,264.00 132.28,254.30 237.91,261.70" fill="none" stroke="#111111" stroke-width="1.25" stroke-linejoin="round"/>
<path d="M29.50 260.40L31.10 263.28L27.90 263.28Z" fill="#111111"/>
<path d="M31.50 256.80L33.10 259.68L29.90 259.68Z" fill="#111111"/>
<path d="M33.50 254.40L35.10 257.28L31.90 257.28Z" fill="#111111"/>
<path d="M38.06 259.20L39.66 262.08L36.46 262.08Z" fill="#111111"/>
<path d="M46.63 259.20L48.23 262.08L45.03 262.08Z" fill="#111111"/>
<path d="M63.76 247.20L65.36 250.08L62.16 250.08Z" fill="#111111"/>
<path d="M80.89 263.40L82.49 266.28L79.29 266.28Z" fill="#111111"/>
<path d="M98.02 260.40L99.62 263.28L96.42 263.28Z" fill="#111111"/>
<path d="M115.15 262.40L116.75 265.28L113.55 265.28Z" fill="#111111"/>
<path d="M132.28 252.70L133.88 255.58L130.68 255.58Z" fill="#111111"/>
<path d="M237.91 260.10L239.51 262.98L236.31 262.98Z" fill="#111111"/>
<polyline points="29.50,256.00 31.50,262.00 33.50,255.00 38.06,262.00 46.63,256.00 63.76,255.70 80.89,256.60 98.02,256.00 115.15,264.20 132.28,250.00 237.91,255.40" fill="none" stroke="#a02437" stroke-width="1.25" stroke-linejoin="round"/>
<path d="M29.50 254.40L31.10 257.28L27.90 257.28Z" fill="#7a1222"/>
<path d="M31.50 260.40L33.10 263.28L29.90 263.28Z" fill="#7a1222"/>
<path d="M33.50 253.40L35.10 256.28L31.90 256.28Z" fill="#7a1222"/>
<path d="M38.06 260.40L39.66 263.28L36.46 263.28Z" fill="#7a1222"/>
<path d="M46.63 254.40L48.23 257.28L45.03 257.28Z" fill="#7a1222"/>
<path d="M63.76 254.10L65.36 256.98L62.16 256.98Z" fill="#7a1222"/>
<path d="M80.89 255.00L82.49 257.88L79.29 257.88Z" fill="#7a1222"/>
<path d="M98.02 254.40L99.62 257.28L96.42 257.28Z" fill="#7a1222"/>
<path d="M115.15 262.60L116.75 265.48L113.55 265.48Z" fill="#7a1222"/>
<path d="M132.28 248.40L133.88 251.28L130.68 251.28Z" fill="#7a1222"/>
<path d="M237.91 253.80L239.51 256.68L236.31 256.68Z" fill="#7a1222"/>
<polyline points="29.50,252.00 31.50,250.00 33.50,252.00 38.06,266.50 46.63,259.70 63.76,255.70 80.89,255.00 98.02,253.90 115.15,255.00 132.28,267.70 237.91,264.40" fill="none" stroke="#a02437" stroke-width="1.25" stroke-linejoin="round"/>
<path d="M29.50 250.60L30.90 252.00L29.50 253.40L28.10 252.00Z" fill="#7a1222"/>
<path d="M31.50 248.60L32.90 250.00L31.50 251.40L30.10 250.00Z" fill="#7a1222"/>
<path d="M33.50 250.60L34.90 252.00L33.50 253.40L32.10 252.00Z" fill="#7a1222"/>
<path d="M38.06 265.10L39.46 266.50L38.06 267.90L36.66 266.50Z" fill="#7a1222"/>
<path d="M46.63 258.30L48.03 259.70L46.63 261.10L45.23 259.70Z" fill="#7a1222"/>
<path d="M63.76 254.30L65.16 255.70L63.76 257.10L62.36 255.70Z" fill="#7a1222"/>
<path d="M80.89 253.60L82.29 255.00L80.89 256.40L79.49 255.00Z" fill="#7a1222"/>
<path d="M98.02 252.50L99.42 253.90L98.02 255.30L96.62 253.90Z" fill="#7a1222"/>
<path d="M115.15 253.60L116.55 255.00L115.15 256.40L113.75 255.00Z" fill="#7a1222"/>
<path d="M132.28 266.30L133.68 267.70L132.28 269.10L130.88 267.70Z" fill="#7a1222"/>
<path d="M237.91 263.00L239.31 264.40L237.91 265.80L236.51 264.40Z" fill="#7a1222"/>
<polyline points="29.50,168.80 29.79,246.00 31.50,249.70 33.50,247.90 38.06,252.70 46.63,253.40 63.76,251.00 80.89,252.00 98.02,249.70 115.15,248.80 132.28,249.70 237.91,250.60" fill="none" stroke="#a02437" stroke-width="1.25" stroke-linejoin="round"/>
<rect x="28.00" y="167.30" width="3.00" height="3.00" fill="#7a1222"/>
<rect x="28.29" y="244.50" width="3.00" height="3.00" fill="#7a1222"/>
<rect x="30.00" y="248.20" width="3.00" height="3.00" fill="#7a1222"/>
<rect x="32.00" y="246.40" width="3.00" height="3.00" fill="#7a1222"/>
<rect x="36.56" y="251.20" width="3.00" height="3.00" fill="#7a1222"/>
<rect x="45.13" y="251.90" width="3.00" height="3.00" fill="#7a1222"/>
<rect x="62.26" y="249.50" width="3.00" height="3.00" fill="#7a1222"/>
<rect x="79.39" y="250.50" width="3.00" height="3.00" fill="#7a1222"/>
<rect x="96.52" y="248.20" width="3.00" height="3.00" fill="#7a1222"/>
<rect x="113.65" y="247.30" width="3.00" height="3.00" fill="#7a1222"/>
<rect x="130.78" y="248.20" width="3.00" height="3.00" fill="#7a1222"/>
<rect x="236.41" y="249.10" width="3.00" height="3.00" fill="#7a1222"/>
<line x1="287.90" y1="183.68" x2="287.90" y2="295.90" stroke="#222222" stroke-width="1.0"/>
<line x1="287.90" y1="295.40" x2="511.22" y2="295.40" stroke="#222222" stroke-width="1.0"/>
<line x1="285.80" y1="295.40" x2="287.90" y2="295.40" stroke="#222222" stroke-width="0.9"/>
<text x="283.70" y="297.70" font-size="6.4" text-anchor="end" font-weight="bold" fill="#111" stroke="#111" stroke-width="0.12" textLength="3.1" lengthAdjust="spacingAndGlyphs" >0</text>
<line x1="285.80" y1="276.78" x2="287.90" y2="276.78" stroke="#222222" stroke-width="0.9"/>
<text x="283.70" y="279.08" font-size="6.4" text-anchor="end" font-weight="bold" fill="#111" stroke="#111" stroke-width="0.12" textLength="12.4" lengthAdjust="spacingAndGlyphs" >1000</text>
<line x1="285.80" y1="258.16" x2="287.90" y2="258.16" stroke="#222222" stroke-width="0.9"/>
<text x="283.70" y="260.46" font-size="6.4" text-anchor="end" font-weight="bold" fill="#111" stroke="#111" stroke-width="0.12" textLength="12.4" lengthAdjust="spacingAndGlyphs" >2000</text>
<line x1="285.80" y1="239.54" x2="287.90" y2="239.54" stroke="#222222" stroke-width="0.9"/>
<text x="283.70" y="241.84" font-size="6.4" text-anchor="end" font-weight="bold" fill="#111" stroke="#111" stroke-width="0.12" textLength="12.4" lengthAdjust="spacingAndGlyphs" >3000</text>
<line x1="285.80" y1="220.92" x2="287.90" y2="220.92" stroke="#222222" stroke-width="0.9"/>
<text x="283.70" y="223.22" font-size="6.4" text-anchor="end" font-weight="bold" fill="#111" stroke="#111" stroke-width="0.12" textLength="12.4" lengthAdjust="spacingAndGlyphs" >4000</text>
<line x1="285.80" y1="202.30" x2="287.90" y2="202.30" stroke="#222222" stroke-width="0.9"/>
<text x="283.70" y="204.60" font-size="6.4" text-anchor="end" font-weight="bold" fill="#111" stroke="#111" stroke-width="0.12" textLength="12.4" lengthAdjust="spacingAndGlyphs" >5000</text>
<line x1="285.80" y1="183.68" x2="287.90" y2="183.68" stroke="#222222" stroke-width="0.9"/>
<text x="283.70" y="185.98" font-size="6.4" text-anchor="end" font-weight="bold" fill="#111" stroke="#111" stroke-width="0.12" textLength="12.4" lengthAdjust="spacingAndGlyphs" >6000</text>
<line x1="288.00" y1="295.40" x2="288.00" y2="297.60" stroke="#222222" stroke-width="0.9"/>
<text x="288.00" y="306.20" font-size="6.4" text-anchor="middle" font-weight="bold" fill="#111" stroke="#111" stroke-width="0.12" textLength="3.1" lengthAdjust="spacingAndGlyphs" >0</text>
<line x1="325.12" y1="295.40" x2="325.12" y2="297.60" stroke="#222222" stroke-width="0.9"/>
<text x="325.12" y="306.20" font-size="6.4" text-anchor="middle" font-weight="bold" fill="#111" stroke="#111" stroke-width="0.12" textLength="9.3" lengthAdjust="spacingAndGlyphs" >200</text>
<line x1="362.24" y1="295.40" x2="362.24" y2="297.60" stroke="#222222" stroke-width="0.9"/>
<text x="362.24" y="306.20" font-size="6.4" text-anchor="middle" font-weight="bold" fill="#111" stroke="#111" stroke-width="0.12" textLength="9.3" lengthAdjust="spacingAndGlyphs" >400</text>
<line x1="399.36" y1="295.40" x2="399.36" y2="297.60" stroke="#222222" stroke-width="0.9"/>
<text x="399.36" y="306.20" font-size="6.4" text-anchor="middle" font-weight="bold" fill="#111" stroke="#111" stroke-width="0.12" textLength="9.3" lengthAdjust="spacingAndGlyphs" >600</text>
<line x1="436.48" y1="295.40" x2="436.48" y2="297.60" stroke="#222222" stroke-width="0.9"/>
<text x="436.48" y="306.20" font-size="6.4" text-anchor="middle" font-weight="bold" fill="#111" stroke="#111" stroke-width="0.12" textLength="9.3" lengthAdjust="spacingAndGlyphs" >800</text>
<line x1="473.60" y1="295.40" x2="473.60" y2="297.60" stroke="#222222" stroke-width="0.9"/>
<text x="473.60" y="306.20" font-size="6.4" text-anchor="middle" font-weight="bold" fill="#111" stroke="#111" stroke-width="0.12" textLength="12.4" lengthAdjust="spacingAndGlyphs" >1000</text>
<line x1="510.72" y1="295.40" x2="510.72" y2="297.60" stroke="#222222" stroke-width="0.9"/>
<text x="510.72" y="306.20" font-size="6.4" text-anchor="middle" font-weight="bold" fill="#111" stroke="#111" stroke-width="0.12" textLength="12.4" lengthAdjust="spacingAndGlyphs" >1200</text>
<line x1="288.00" y1="279.30" x2="498.50" y2="279.30" stroke="#000" stroke-width="1.6"/>
<text x="428.50" y="275.80" font-size="6.3" text-anchor="start" font-weight="bold" fill="#111" stroke="#111" stroke-width="0.25" textLength="59.5" lengthAdjust="spacingAndGlyphs" >Upper limit of normal</text>
<polyline points="288.00,278.64 289.30,289.81 291.71,290.75 296.35,291.68 301.92,289.81 306.56,292.61 312.13,293.17" fill="none" stroke="#111111" stroke-width="1.375" stroke-linejoin="round"/>
<path d="M288.00 276.88L289.76 280.05L286.24 280.05Z" fill="#111111"/>
<path d="M289.30 288.05L291.06 291.22L287.54 291.22Z" fill="#111111"/>
<path d="M291.71 288.99L293.47 292.15L289.95 292.15Z" fill="#111111"/>
<path d="M296.35 289.92L298.11 293.08L294.59 293.08Z" fill="#111111"/>
<path d="M301.92 288.05L303.68 291.22L300.16 291.22Z" fill="#111111"/>
<path d="M306.56 290.85L308.32 294.01L304.80 294.01Z" fill="#111111"/>
<path d="M312.13 291.41L313.89 294.57L310.37 294.57Z" fill="#111111"/>
<polyline points="288.00,245.13 288.19,280.50 288.93,287.95 290.60,291.68 293.57,288.88 297.28,292.61 302.85,294.28 306.56,290.75 310.27,293.54 321.41,292.42" fill="none" stroke="#111111" stroke-width="1.375" stroke-linejoin="round"/>
<rect x="286.35" y="243.48" width="3.30" height="3.30" fill="#111111"/>
<rect x="286.54" y="278.85" width="3.30" height="3.30" fill="#111111"/>
<rect x="287.28" y="286.30" width="3.30" height="3.30" fill="#111111"/>
<rect x="288.95" y="290.03" width="3.30" height="3.30" fill="#111111"/>
<rect x="291.92" y="287.23" width="3.30" height="3.30" fill="#111111"/>
<rect x="295.63" y="290.96" width="3.30" height="3.30" fill="#111111"/>
<rect x="301.20" y="292.63" width="3.30" height="3.30" fill="#111111"/>
<rect x="304.91" y="289.10" width="3.30" height="3.30" fill="#111111"/>
<rect x="308.62" y="291.89" width="3.30" height="3.30" fill="#111111"/>
<rect x="319.76" y="290.77" width="3.30" height="3.30" fill="#111111"/>
<polyline points="288.00,202.30 288.19,267.47 288.93,284.23 289.86,288.88 293.57,287.02 299.14,290.75 304.70,292.61 310.27,291.68 321.41,293.54 338.11,293.91" fill="none" stroke="#111111" stroke-width="1.375" stroke-linejoin="round"/>
<circle cx="288.00" cy="202.30" r="1.65" fill="#111111"/>
<circle cx="288.19" cy="267.47" r="1.65" fill="#111111"/>
<circle cx="288.93" cy="284.23" r="1.65" fill="#111111"/>
<circle cx="289.86" cy="288.88" r="1.65" fill="#111111"/>
<circle cx="293.57" cy="287.02" r="1.65" fill="#111111"/>
<circle cx="299.14" cy="290.75" r="1.65" fill="#111111"/>
<circle cx="304.70" cy="292.61" r="1.65" fill="#111111"/>
<circle cx="310.27" cy="291.68" r="1.65" fill="#111111"/>
<circle cx="321.41" cy="293.54" r="1.65" fill="#111111"/>
<circle cx="338.11" cy="293.91" r="1.65" fill="#111111"/>
<polyline points="288.00,286.09 289.30,291.68 293.57,292.61 299.14,293.17 310.27,292.61 321.41,292.98 339.97,293.35 356.12,292.79 380.80,292.79 400.66,292.79 434.25,292.79 466.55,292.61" fill="none" stroke="#a02437" stroke-width="1.375" stroke-linejoin="round"/>
<path d="M288.00 284.55L289.54 286.09L288.00 287.63L286.46 286.09Z" fill="#7a1222"/>
<path d="M289.30 290.14L290.84 291.68L289.30 293.22L287.76 291.68Z" fill="#7a1222"/>
<path d="M293.57 291.07L295.11 292.61L293.57 294.15L292.03 292.61Z" fill="#7a1222"/>
<path d="M299.14 291.63L300.68 293.17L299.14 294.71L297.60 293.17Z" fill="#7a1222"/>
<path d="M310.27 291.07L311.81 292.61L310.27 294.15L308.73 292.61Z" fill="#7a1222"/>
<path d="M321.41 291.44L322.95 292.98L321.41 294.52L319.87 292.98Z" fill="#7a1222"/>
<path d="M339.97 291.81L341.51 293.35L339.97 294.89L338.43 293.35Z" fill="#7a1222"/>
<path d="M356.12 291.25L357.66 292.79L356.12 294.33L354.58 292.79Z" fill="#7a1222"/>
<path d="M380.80 291.25L382.34 292.79L380.80 294.33L379.26 292.79Z" fill="#7a1222"/>
<path d="M400.66 291.25L402.20 292.79L400.66 294.33L399.12 292.79Z" fill="#7a1222"/>
<path d="M434.25 291.25L435.79 292.79L434.25 294.33L432.71 292.79Z" fill="#7a1222"/>
<path d="M466.55 291.07L468.09 292.61L466.55 294.15L465.01 292.61Z" fill="#7a1222"/>
<polyline points="288.00,278.64 288.37,286.09 289.30,289.81 293.57,291.68 299.14,290.75 310.27,291.68 321.41,292.79 334.40,290.56 343.68,293.17 356.12,293.17 372.45,293.17 400.66,293.17 417.92,293.17 434.25,292.98 455.04,293.17 466.55,292.79" fill="none" stroke="#a02437" stroke-width="1.375" stroke-linejoin="round"/>
<rect x="286.35" y="276.99" width="3.30" height="3.30" fill="#7a1222"/>
<rect x="286.72" y="284.44" width="3.30" height="3.30" fill="#7a1222"/>
<rect x="287.65" y="288.16" width="3.30" height="3.30" fill="#7a1222"/>
<rect x="291.92" y="290.03" width="3.30" height="3.30" fill="#7a1222"/>
<rect x="297.49" y="289.10" width="3.30" height="3.30" fill="#7a1222"/>
<rect x="308.62" y="290.03" width="3.30" height="3.30" fill="#7a1222"/>
<rect x="319.76" y="291.14" width="3.30" height="3.30" fill="#7a1222"/>
<rect x="332.75" y="288.91" width="3.30" height="3.30" fill="#7a1222"/>
<rect x="342.03" y="291.52" width="3.30" height="3.30" fill="#7a1222"/>
<rect x="354.47" y="291.52" width="3.30" height="3.30" fill="#7a1222"/>
<rect x="370.80" y="291.52" width="3.30" height="3.30" fill="#7a1222"/>
<rect x="399.01" y="291.52" width="3.30" height="3.30" fill="#7a1222"/>
<rect x="416.27" y="291.52" width="3.30" height="3.30" fill="#7a1222"/>
<rect x="432.60" y="291.33" width="3.30" height="3.30" fill="#7a1222"/>
<rect x="453.39" y="291.52" width="3.30" height="3.30" fill="#7a1222"/>
<rect x="464.90" y="291.14" width="3.30" height="3.30" fill="#7a1222"/>
<polyline points="288.00,222.78 288.19,278.64 289.30,287.95 290.60,289.81 293.57,290.75 299.14,291.68 304.70,292.61 310.27,290.75 321.41,292.61 339.97,286.46 356.12,292.61 372.45,292.61 380.80,292.61 400.66,292.61 417.92,292.61 434.25,292.61 442.42,292.23 460.05,287.39" fill="none" stroke="#a02437" stroke-width="1.375" stroke-linejoin="round"/>
<path d="M288.00 221.02L289.76 224.19L286.24 224.19Z" fill="#7a1222"/>
<path d="M288.19 276.88L289.95 280.05L286.43 280.05Z" fill="#7a1222"/>
<path d="M289.30 286.19L291.06 289.36L287.54 289.36Z" fill="#7a1222"/>
<path d="M290.60 288.05L292.36 291.22L288.84 291.22Z" fill="#7a1222"/>
<path d="M293.57 288.99L295.33 292.15L291.81 292.15Z" fill="#7a1222"/>
<path d="M299.14 289.92L300.90 293.08L297.38 293.08Z" fill="#7a1222"/>
<path d="M304.70 290.85L306.46 294.01L302.94 294.01Z" fill="#7a1222"/>
<path d="M310.27 288.99L312.03 292.15L308.51 292.15Z" fill="#7a1222"/>
<path d="M321.41 290.85L323.17 294.01L319.65 294.01Z" fill="#7a1222"/>
<path d="M339.97 284.70L341.73 287.87L338.21 287.87Z" fill="#7a1222"/>
<path d="M356.12 290.85L357.88 294.01L354.36 294.01Z" fill="#7a1222"/>
<path d="M372.45 290.85L374.21 294.01L370.69 294.01Z" fill="#7a1222"/>
<path d="M380.80 290.85L382.56 294.01L379.04 294.01Z" fill="#7a1222"/>
<path d="M400.66 290.85L402.42 294.01L398.90 294.01Z" fill="#7a1222"/>
<path d="M417.92 290.85L419.68 294.01L416.16 294.01Z" fill="#7a1222"/>
<path d="M434.25 290.85L436.01 294.01L432.49 294.01Z" fill="#7a1222"/>
<path d="M442.42 290.47L444.18 293.64L440.66 293.64Z" fill="#7a1222"/>
<path d="M460.05 285.63L461.81 288.80L458.29 288.80Z" fill="#7a1222"/>
<circle cx="288.00" cy="202.30" r="1.80" fill="#111111"/>
<circle cx="288.00" cy="245.13" r="1.80" fill="#111111"/>
<text x="0.50" y="9.30" font-size="11.5" text-anchor="start" font-weight="bold" fill="#000" stroke="#000" stroke-width="0.2" >A</text>
<text x="261.00" y="8.60" font-size="11.3" text-anchor="start" font-weight="bold" fill="#000" stroke="#000" stroke-width="0.2" >B</text>
<text x="1.60" y="168.60" font-size="11.3" text-anchor="start" font-weight="bold" fill="#000" stroke="#000" stroke-width="0.2" >C</text>
<text x="261.40" y="168.40" font-size="11.3" text-anchor="start" font-weight="bold" fill="#000" stroke="#000" stroke-width="0.2" >D</text>
<text transform="translate(8.70,112.30) rotate(-90)" x="0" y="0" font-size="8.0" text-anchor="start" font-weight="bold" fill="#000" stroke="#000" stroke-width="0.35" textLength="35.6" lengthAdjust="spacingAndGlyphs" xml:space="preserve">c.FIX Ag </text>
<text transform="translate(8.70,76.70) rotate(-90)" x="0" y="0" font-size="8.0" text-anchor="start" font-weight="bold" fill="#000" stroke="#000" stroke-width="0.35" textLength="33.8" lengthAdjust="spacingAndGlyphs" xml:space="preserve">(ng/mL)</text>
<text transform="translate(265.20,89.70) rotate(-90)" x="0" y="0" font-size="8.6" text-anchor="start" font-weight="bold" fill="#000" stroke="#000" stroke-width="0.35" textLength="22.8" lengthAdjust="spacingAndGlyphs" xml:space="preserve">aPTT </text>
<text transform="translate(265.20,66.90) rotate(-90)" x="0" y="0" font-size="8.6" text-anchor="start" font-weight="bold" fill="#000" stroke="#000" stroke-width="0.35" textLength="10.2" lengthAdjust="spacingAndGlyphs" xml:space="preserve">(s)</text>
<text transform="translate(10.40,245.20) rotate(-90)" x="0" y="0" font-size="8.2" text-anchor="start" font-weight="bold" fill="#000" stroke="#000" stroke-width="0.35" textLength="25.0" lengthAdjust="spacingAndGlyphs" xml:space="preserve">WBCT </text>
<text transform="translate(10.40,220.20) rotate(-90)" x="0" y="0" font-size="8.2" text-anchor="start" font-weight="bold" fill="#000" stroke="#000" stroke-width="0.35" textLength="17.9" lengthAdjust="spacingAndGlyphs" xml:space="preserve">(m)</text>
<text transform="translate(265.90,255.60) rotate(-90)" x="0" y="0" font-size="8.4" text-anchor="start" font-weight="bold" fill="#000" stroke="#000" stroke-width="0.35" textLength="21.5" lengthAdjust="spacingAndGlyphs" xml:space="preserve">CPK </text>
<text transform="translate(265.90,234.10) rotate(-90)" x="0" y="0" font-size="8.4" text-anchor="start" font-weight="bold" fill="#000" stroke="#000" stroke-width="0.35" textLength="18.2" lengthAdjust="spacingAndGlyphs" xml:space="preserve">(U/L)</text>
<text x="126.10" y="327.90" font-size="8.2" text-anchor="start" font-weight="bold" fill="#000" stroke="#000" stroke-width="0.4" textLength="20.0" lengthAdjust="spacingAndGlyphs" >Days</text>
<text x="393.00" y="327.00" font-size="8.2" text-anchor="start" font-weight="bold" fill="#000" stroke="#000" stroke-width="0.4" textLength="20.2" lengthAdjust="spacingAndGlyphs" >Days</text>
</svg>
</body></html>
